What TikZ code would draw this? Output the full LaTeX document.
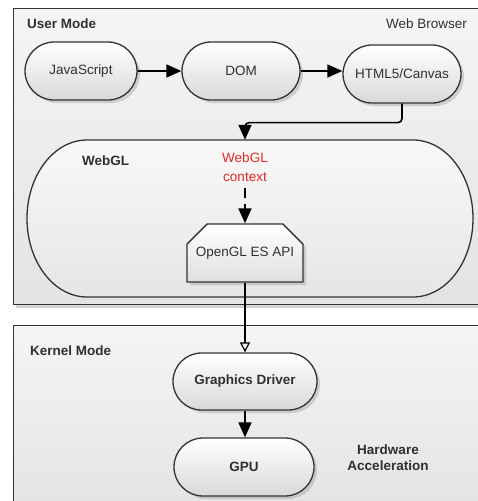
\documentclass[tikz,border=0pt]{standalone}
\usepackage{fontspec}
\setmainfont{Liberation Sans}
\usetikzlibrary{shapes.misc,shadows,arrows.meta}

\definecolor{edge}{HTML}{333333}
\definecolor{ink}{HTML}{303030}
\definecolor{ctxred}{HTML}{E02828}

\tikzset{
  panel/.style={draw=edge, line width=1.4pt, rectangle, anchor=north west,
    top color=gray!8, bottom color=gray!22,
    drop shadow={shadow xshift=2pt, shadow yshift=-3pt, opacity=0.35}},
  pill/.style={draw=edge, line width=1.3pt, rounded rectangle,
    top color=white, bottom color=gray!30, text=ink,
    drop shadow={shadow xshift=3pt, shadow yshift=-3pt, opacity=0.3},
    inner sep=0pt},
  bigpill/.style={draw=edge, line width=1.3pt,
    top color=gray!5, bottom color=gray!20},
  apibox/.style={draw=edge, line width=1.3pt, chamfered rectangle,
    chamfered rectangle corners={north west,north east},
    chamfered rectangle xsep=16pt, chamfered rectangle ysep=14pt,
    top color=white, bottom color=gray!25, text=ink, inner sep=0pt,
    drop shadow={shadow xshift=3pt, shadow yshift=-3pt, opacity=0.3}},
  lbl/.style={text=ink, font=\fontsize{13.5}{16}\selectfont},
  blbl/.style={text=ink, font=\fontsize{13.5}{16}\selectfont\bfseries},
  flow/.style={draw=black, line width=1.6pt,
    -{Triangle[length=15pt,width=13pt]}},
  openflow/.style={draw=black, line width=1.6pt,
    -{Triangle[open,length=10pt,width=10pt,line width=1.2pt]}},
}

\begin{document}
\begin{tikzpicture}[x=1pt,y=-1pt, font=\fontsize{13.5}{16}\selectfont]
\useasboundingbox (0,0) rectangle (478,501);
\fill[white] (0,0) rectangle (478,501);
\begin{scope}
\clip (0,0) rectangle (478,501);

% mode panels
\node[panel, minimum width=480pt, minimum height=296pt] (user) at (13,8) {};
\node[panel, minimum width=480pt, minimum height=190pt] (kernel) at (13,325) {};

% panel captions
\node[blbl, anchor=west, inner sep=0pt] (umode) at (27,24) {User Mode};
\node[lbl, anchor=east, inner sep=0pt] (browser) at (467,24) {Web Browser};
\node[blbl, anchor=west, inner sep=0pt] (kmode) at (30,351) {Kernel Mode};
\node[blbl, align=center, inner sep=0pt] (hwacc) at (388,458) {Hardware\\Acceleration};

% browser pipeline
\node[pill, minimum width=112pt, minimum height=58pt] (js) at (81,71) {JavaScript};
\node[pill, minimum width=118pt, minimum height=58pt] (dom) at (241,71) {DOM};
\node[pill, minimum width=118pt, minimum height=58pt] (html) at (402,74) {HTML5/Canvas};

% WebGL container: a wide capsule with elliptic ends
\path[bigpill] (87,140) -- (413,140)
  .. controls (446.1,140) and (473,175.2) .. (473,218.5)
  .. controls (473,261.8) and (446.1,297) .. (413,297)
  -- (87,297)
  .. controls (53.9,297) and (27,261.8) .. (27,218.5)
  .. controls (27,175.2) and (53.9,140) .. cycle;
\node[inner sep=0pt, minimum width=446pt, minimum height=157pt] (webgl) at (250,218.5) {};
\node[blbl, anchor=west, inner sep=0pt] (webgllbl) at (82,161) {WebGL};
\node[text=ctxred, align=center, inner sep=0pt, font=\fontsize{13.5}{19}\selectfont] (ctx) at (245,167) {WebGL\\context};
\node[apibox, minimum width=116pt, minimum height=58pt] (ogl) at (245,253) {OpenGL ES API};

% kernel side
\node[pill, minimum width=144pt, minimum height=57pt, font=\fontsize{13.5}{16}\selectfont\bfseries] (drv) at (245,381.5) {Graphics Driver};
\node[pill, minimum width=140pt, minimum height=58pt, font=\fontsize{13.5}{16}\selectfont\bfseries] (gpu) at (244,467) {GPU};

% connectors
\draw[flow] (js) -- (dom);
\draw[flow] (dom.east) -- (html.west |- dom.east);
\coordinate (wtop) at (webgl.north -| ogl);
\draw[flow, rounded corners=4pt] (html.south) -- ++(0,19) -| (wtop);
\draw[flow, dash pattern=on 10pt off 6pt, shorten <=6pt] (ctx.south) -- (ogl.north);
\draw[openflow] (ogl.south) -- (drv.north);
\draw[flow] (drv.south) -- (gpu.north -| drv);
\end{scope}
\end{tikzpicture}
\end{document}
